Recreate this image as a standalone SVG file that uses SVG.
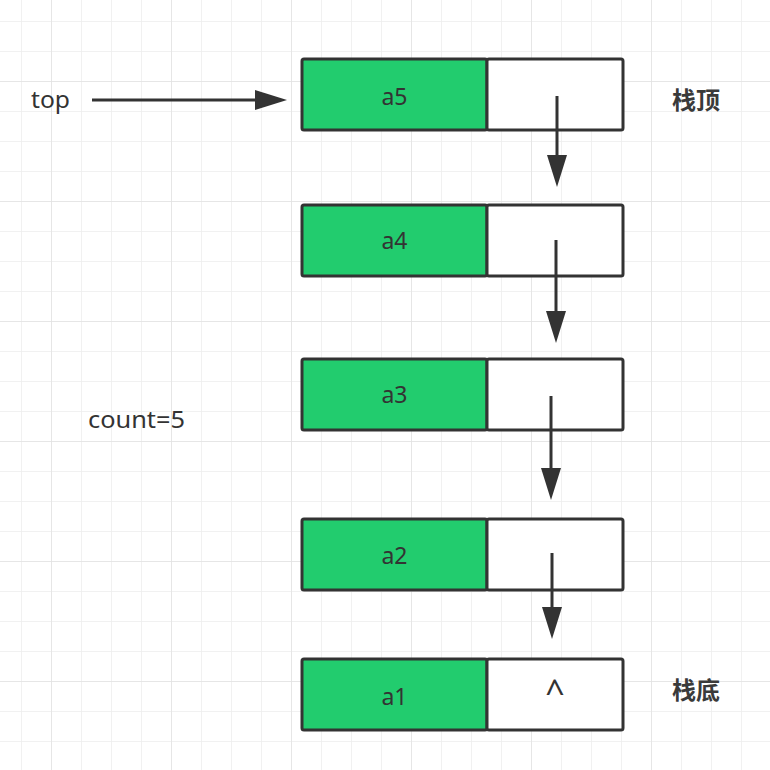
<svg xmlns="http://www.w3.org/2000/svg" width="770" height="770" viewBox="0 0 770 770">
  <defs>
    <pattern id="minor" x="21" y="21" width="30" height="30" patternUnits="userSpaceOnUse">
      <path d="M0 0 H30 M0 0 V30" fill="none" stroke="#ededed" stroke-width="1.5"/>
    </pattern>
    <pattern id="major" x="51" y="81" width="120" height="120" patternUnits="userSpaceOnUse">
      <path d="M0 0 H120 M0 0 V120" fill="none" stroke="#e2e2e2" stroke-width="1.5"/>
    </pattern>
    <marker id="head" viewBox="0 0 32 20" refX="22" refY="10" markerWidth="32" markerHeight="20" markerUnits="userSpaceOnUse" orient="auto">
      <path d="M0 0 L32 10 L0 20 Z" fill="#333"/>
    </marker>
    <style>
      .cell { stroke: #333; stroke-width: 3; }
      .data { fill: #22cc6e; }
      .next { fill: #ffffff; }
      .lbl { font-family: "Noto Sans", "Liberation Sans", "Noto Sans CJK SC", sans-serif; font-size: 23px; fill: #333; }
      .mid { text-anchor: middle; }
      .cjk { font-family: "Noto Sans CJK SC", "Noto Sans", sans-serif; font-size: 24px; font-weight: bold; fill: #3a3a3a; }
      .conn { stroke: #333; stroke-width: 3; fill: none; marker-end: url(#head); }
    </style>
  </defs>

  <rect width="770" height="770" fill="#ffffff"/>
  <rect width="770" height="770" fill="url(#minor)"/>
  <rect width="770" height="770" fill="url(#major)"/>

  <g id="node-a5">
    <rect class="cell data" x="302" y="59" width="185" height="71" rx="2"/>
    <rect class="cell next" x="487" y="59" width="136" height="71" rx="2"/>
    <text class="lbl mid" x="394.5" y="105">a5</text>
  </g>
  <g id="node-a4">
    <rect class="cell data" x="302" y="205" width="185" height="71" rx="2"/>
    <rect class="cell next" x="487" y="205" width="136" height="71" rx="2"/>
    <text class="lbl mid" x="394.5" y="249">a4</text>
  </g>
  <g id="node-a3">
    <rect class="cell data" x="302" y="359" width="185" height="71" rx="2"/>
    <rect class="cell next" x="487" y="359" width="136" height="71" rx="2"/>
    <text class="lbl mid" x="394.5" y="403">a3</text>
  </g>
  <g id="node-a2">
    <rect class="cell data" x="302" y="519" width="185" height="71" rx="2"/>
    <rect class="cell next" x="487" y="519" width="136" height="71" rx="2"/>
    <text class="lbl mid" x="394.5" y="564">a2</text>
  </g>
  <g id="node-a1">
    <rect class="cell data" x="302" y="659" width="185" height="71" rx="2"/>
    <rect class="cell next" x="487" y="659" width="136" height="71" rx="2"/>
    <text class="lbl mid" x="394.5" y="705">a1</text>
    <text class="lbl mid" x="555" y="704" style="font-size:34px">^</text>
  </g>

  <g id="label-top">
    <text class="lbl" x="31" y="108" textLength="39" lengthAdjust="spacingAndGlyphs">top</text>
  </g>
  <g id="label-count">
    <text class="lbl" x="88" y="428" textLength="97" lengthAdjust="spacingAndGlyphs">count=5</text>
  </g>
  <g id="label-stack-top">
    <text class="cjk" x="672" y="109">栈顶</text>
  </g>
  <g id="label-stack-bottom">
    <text class="cjk" x="672" y="699">栈底</text>
  </g>

  <g id="connectors">
    <line class="conn" x1="92" y1="100" x2="277" y2="100"/>
    <line class="conn" x1="557" y1="96" x2="557" y2="177"/>
    <line class="conn" x1="556" y1="240" x2="556" y2="333"/>
    <line class="conn" x1="551" y1="396" x2="551" y2="490"/>
    <line class="conn" x1="552" y1="553" x2="552" y2="629"/>
  </g>
</svg>
